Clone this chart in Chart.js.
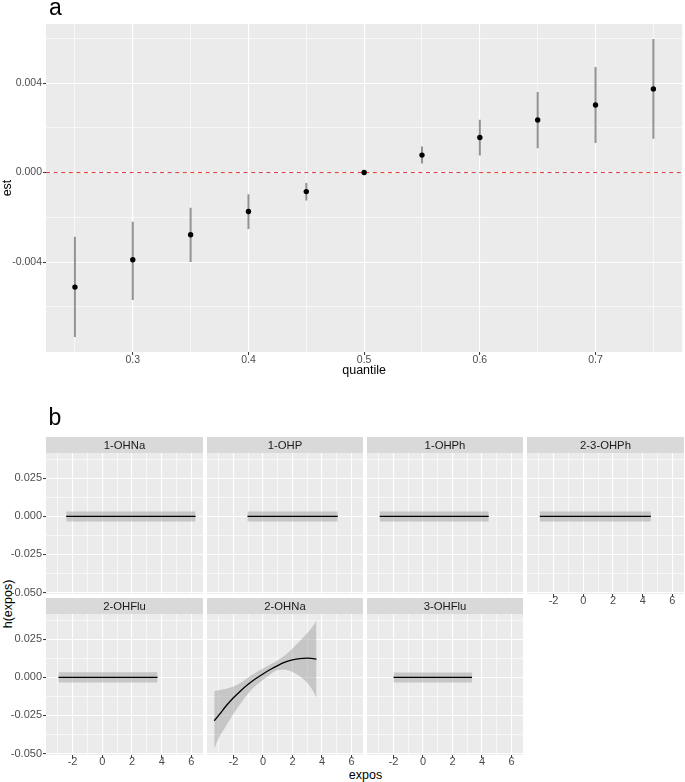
<!DOCTYPE html>
<html>
<head>
<meta charset="utf-8">
<script src="https://cdn.jsdelivr.net/npm/chart.js@4.4.1/dist/chart.umd.min.js"></script>
<style>
  html, body { margin: 0; padding: 0; background: #ffffff; }
  body { width: 685px; height: 782px; position: relative; overflow: hidden; font-family: "Liberation Sans", Arial, Helvetica, sans-serif; }
  canvas { position: absolute; }
  .lbl { position: absolute; white-space: nowrap; color: #000; }
</style>
</head>
<body>
<canvas id="chartA" style="left:0px;top:0px" width="685" height="385"></canvas>
<div class="lbl" style="left:49px;top:-4.5px;font-size:23px;line-height:23px;">a</div>
<div class="lbl" style="left:48.5px;top:405.5px;font-size:23px;line-height:23px;">b</div>
<div class="lbl" style="left:7.5px;top:604px;font-size:12.5px;line-height:12.5px;transform:translate(-50%,-50%) rotate(-90deg);">h(expos)</div>
<div class="lbl" style="left:365.5px;top:768.5px;font-size:12.5px;line-height:12.5px;transform:translateX(-50%);">expos</div>
<div id="facets"></div>
<script>
// ---------------- DATA: panel a ----------------
const quantiles = [0.25, 0.30, 0.35, 0.40, 0.45, 0.50, 0.55, 0.60, 0.65, 0.70, 0.75];
const est       = [-0.00512, -0.00390, -0.00278, -0.00174, -0.00085, 0.00000, 0.00078, 0.00157, 0.00235, 0.00302, 0.00374];
const estLower  = [-0.00735, -0.00570, -0.00400, -0.00252, -0.00125, 0.00000, 0.00040, 0.00076, 0.00109, 0.00132, 0.00151];
const estUpper  = [-0.00287, -0.00220, -0.00157, -0.00097, -0.00047, 0.00000, 0.00116, 0.00236, 0.00360, 0.00472, 0.00597];
const refLine = 0;
const aXMajor = [0.3, 0.4, 0.5, 0.6, 0.7];
const aXMinor = [0.25, 0.35, 0.45, 0.55, 0.65, 0.75];
const aYMajor = [-0.004, 0, 0.004];
const aYMinor = [-0.006, -0.002, 0.002, 0.006];

// ---------------- DATA: panel b ----------------
const facetNames = ['1-OHNa', '1-OHP', '1-OHPh', '2-3-OHPh', '2-OHFlu', '2-OHNa', '3-OHFlu'];
const facetX = [
  [-2.43, 6.28],
  [-1.05, 5.07],
  [-2.93, 4.46],
  [-2.93, 4.55],
  [-2.95, 3.72],
  [-3.30, -3.0, -2.5, -2.0, -1.5, -1.0, -0.5, 0.0, 0.5, 1.0, 1.5, 2.0, 2.5, 3.0, 3.3, 3.63],
  [-1.99, 3.33]
];
const facetH = [
  [0, 0],
  [0, 0],
  [0, 0],
  [0, 0],
  [0, 0],
  [-0.0285, -0.0250, -0.0188, -0.0134, -0.0087, -0.0045, -0.0009, 0.0023, 0.0052, 0.0078, 0.0100, 0.0115, 0.0124, 0.0127, 0.0125, 0.0121],
  [0, 0]
];
const facetLo = [
  [-0.0033, -0.0033],
  [-0.0033, -0.0033],
  [-0.0033, -0.0033],
  [-0.0033, -0.0033],
  [-0.0034, -0.0034],
  [-0.0468, -0.0400, -0.0320, -0.0240, -0.0170, -0.0105, -0.0055, -0.0017, 0.0020, 0.0047, 0.0050, 0.0036, 0.0008, -0.0035, -0.0075, -0.0134],
  [-0.0033, -0.0033]
];
const facetHi = [
  [0.0033, 0.0033],
  [0.0033, 0.0033],
  [0.0033, 0.0033],
  [0.0033, 0.0033],
  [0.0034, 0.0034],
  [-0.0090, -0.0085, -0.0075, -0.0060, -0.0035, 0.0000, 0.0030, 0.0058, 0.0085, 0.0113, 0.0145, 0.0190, 0.0240, 0.0290, 0.0325, 0.0375],
  [0.0033, 0.0033]
];
const facetCol = [0, 1, 2, 3, 0, 1, 2];
const facetRow = [0, 0, 0, 0, 1, 1, 1];
const bXMajor = [-2, 0, 2, 4, 6];
const bXMinor = [-3, -1, 1, 3, 5];
const bYMajor = [-0.05, -0.025, 0, 0.025];
const bYMinor = [-0.0375, -0.0125, 0.0125, 0.0375];

// ---------------- helpers ----------------
const FONT = '"Liberation Sans", Arial, Helvetica, sans-serif';

const bgPlugin = {
  id: 'panelBg',
  beforeDraw(chart, args, opts) {
    const { ctx, chartArea: a } = chart;
    ctx.save();
    ctx.fillStyle = '#EBEBEB';
    ctx.fillRect(a.left, a.top, a.right - a.left, a.bottom - a.top);
    if (opts && opts.strip) {
      ctx.fillStyle = '#D9D9D9';
      ctx.fillRect(a.left, a.top - opts.stripH, a.right - a.left, opts.stripH);
      ctx.fillStyle = '#1A1A1A';
      ctx.font = '11.3px ' + FONT;
      ctx.textAlign = 'center';
      ctx.textBaseline = 'middle';
      ctx.fillText(opts.strip, (a.left + a.right) / 2, a.top - opts.stripH / 2 + 0.5);
    }
    ctx.restore();
  }
};

const refLinePlugin = {
  id: 'refLine',
  beforeDatasetsDraw(chart, args, opts) {
    if (!opts || opts.value === undefined) return;
    const { ctx, chartArea: a, scales } = chart;
    const y = scales.y.getPixelForValue(opts.value);
    ctx.save();
    ctx.strokeStyle = '#E23A3A';
    ctx.lineWidth = 1;
    ctx.setLineDash([4, 3.6]);
    ctx.beginPath();
    ctx.moveTo(a.left, y);
    ctx.lineTo(a.right, y);
    ctx.stroke();
    ctx.restore();
  }
};

function near(list, v) { return list.some(m => Math.abs(m - v) < 1e-9); }

function mkScale(o) {
  const all = o.major.concat(o.minor).sort((p, q) => p - q);
  const isMaj = v => near(o.major, v);
  return {
    type: 'linear',
    position: o.position,
    min: o.min, max: o.max,
    offset: false,
    afterBuildTicks: s => { s.ticks = all.map(v => ({ value: v })); },
    afterFit: s => {
      if (s.isHorizontal()) { s.height = o.size; s.paddingLeft = 0; s.paddingRight = 0; }
      else { s.width = o.size; s.paddingTop = 0; s.paddingBottom = 0; }
    },
    border: { display: false },
    grid: {
      offset: false,
      color: c => (c.tick && isMaj(c.tick.value)) ? '#FFFFFF' : 'rgba(255,255,255,0.85)',
      lineWidth: c => (c.tick && isMaj(c.tick.value)) ? 1.1 : 0.7,
      drawTicks: o.showTicks,
      tickLength: 3,
      tickWidth: 1,
      tickColor: c => (c.tick && isMaj(c.tick.value)) ? '#333333' : 'rgba(0,0,0,0)'
    },
    ticks: {
      display: o.showTicks,
      autoSkip: false,
      maxRotation: 0,
      minRotation: 0,
      padding: o.pad,
      color: '#4D4D4D',
      font: { family: FONT, size: o.fontSize },
      callback: v => isMaj(v) ? o.fmt(v) : ''
    },
    title: o.title ? {
      display: true,
      text: o.title,
      color: '#000000',
      font: { family: FONT, size: 12.5, lineHeight: 1.2 },
      padding: o.titlePad
    } : { display: false }
  };
}

// ---------------- panel a ----------------
const errSegments = [];
quantiles.forEach((q, i) => {
  errSegments.push({ x: q, y: estLower[i] });
  errSegments.push({ x: q, y: estUpper[i] });
  errSegments.push({ x: q, y: null });
});

new Chart(document.getElementById('chartA'), {
  type: 'scatter',
  data: {
    datasets: [
      {
        type: 'scatter',
        data: quantiles.map((q, i) => ({ x: q, y: est[i] })),
        pointRadius: 2.7,
        pointBackgroundColor: '#000000',
        pointBorderWidth: 0,
        pointHoverRadius: 2.7
      },
      {
        type: 'line',
        data: errSegments,
        showLine: true,
        spanGaps: false,
        borderColor: '#939393',
        borderWidth: 2,
        pointRadius: 0,
        fill: false
      }
    ]
  },
  options: {
    responsive: false,
    animation: false,
    devicePixelRatio: 1,
    events: [],
    layout: { padding: { top: 24, right: 1, left: 0, bottom: 0 } },
    plugins: {
      legend: { display: false },
      tooltip: { enabled: false },
      panelBg: {},
      refLine: { value: refLine }
    },
    scales: {
      x: mkScale({ position: 'bottom', min: 0.225, max: 0.775, major: aXMajor, minor: aXMinor, size: 33, showTicks: true, pad: -1, fontSize: 10.5,
                   fmt: v => String(Math.round(v * 10) / 10), title: 'quantile', titlePad: { top: 0, bottom: 6.5 } }),
      y: mkScale({ position: 'left', min: -0.00802, max: 0.00664, major: aYMajor, minor: aYMinor, size: 46, showTicks: true, pad: 1, fontSize: 10.5,
                   fmt: v => v.toFixed(3), title: 'est', titlePad: { top: 0, bottom: 0 } })
    }
  },
  plugins: [bgPlugin, refLinePlugin]
});

// ---------------- panel b (facets) ----------------
const colLeft = [46, 207, 367, 527];
const colW = [157, 156, 156, 157];
const rowTop = [437, 598];
const panelH = [157, 157];
const stripH = 16;
const axisW = 46, axisH = 18, extraBottom = 8;
const holder = document.getElementById('facets');

facetNames.forEach((name, i) => {
  const c = facetCol[i], r = facetRow[i];
  const showY = c === 0;
  const showX = r === 1 || c === 3;
  const cv = document.createElement('canvas');
  const left = showY ? 0 : colLeft[c];
  const w = (showY ? axisW : 0) + colW[c];
  const padB = showX ? 0 : extraBottom;
  const h = panelH[r] + (showX ? axisH : 0) + padB;
  cv.width = w; cv.height = h;
  cv.style.left = left + 'px';
  cv.style.top = rowTop[r] + 'px';
  holder.appendChild(cv);

  const xs = facetX[i];
  new Chart(cv, {
    type: 'line',
    data: {
      datasets: [
        {
          data: xs.map((x, j) => ({ x: x, y: facetH[i][j] })),
          borderColor: '#000000',
          borderWidth: 1.3,
          pointRadius: 0,
          fill: false,
          cubicInterpolationMode: 'monotone'
        },
        {
          data: xs.map((x, j) => ({ x: x, y: facetLo[i][j] })),
          borderColor: 'rgba(0,0,0,0)',
          borderWidth: 0,
          pointRadius: 0,
          fill: false,
          cubicInterpolationMode: 'monotone'
        },
        {
          data: xs.map((x, j) => ({ x: x, y: facetHi[i][j] })),
          borderColor: 'rgba(0,0,0,0)',
          borderWidth: 0,
          pointRadius: 0,
          backgroundColor: 'rgba(153,153,153,0.45)',
          fill: '-1',
          cubicInterpolationMode: 'monotone'
        }
      ]
    },
    options: {
      responsive: false,
      animation: false,
      devicePixelRatio: 1,
      events: [],
      layout: { padding: { top: stripH, right: 0, left: 0, bottom: padB } },
      plugins: {
        legend: { display: false },
        tooltip: { enabled: false },
        panelBg: { strip: name, stripH: stripH }
      },
      scales: {
        x: mkScale({ position: 'bottom', min: -3.79, max: 6.78, major: bXMajor, minor: bXMinor, size: showX ? axisH : 0, showTicks: showX, pad: -2.5, fontSize: 11,
                     fmt: v => String(v) }),
        y: mkScale({ position: 'left', min: -0.051, max: 0.0417, major: bYMajor, minor: bYMinor, size: showY ? axisW : 0, showTicks: showY, pad: 1, fontSize: 11,
                     fmt: v => v.toFixed(3) })
      }
    },
    plugins: [bgPlugin]
  });
});
</script>
</body>
</html>
